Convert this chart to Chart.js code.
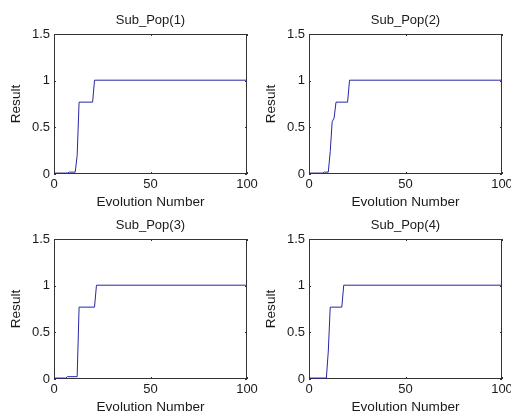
<!DOCTYPE html>
<html><head><meta charset="utf-8">
<script src="https://cdn.jsdelivr.net/npm/chart.js@4"></script>
<style>
html,body{margin:0;padding:0;background:#fff;overflow:hidden;width:511px;height:417px;position:relative;}
canvas{position:absolute;}
</style></head><body>
<canvas id="c1" width="270" height="215" style="left:0px;top:0px"></canvas>
<canvas id="c2" width="270" height="215" style="left:255px;top:0px"></canvas>
<canvas id="c3" width="270" height="215" style="left:0px;top:205px"></canvas>
<canvas id="c4" width="270" height="215" style="left:255px;top:205px"></canvas>
<script>
// ---- data ----
const titles = ['Sub_Pop(1)', 'Sub_Pop(2)', 'Sub_Pop(3)', 'Sub_Pop(4)'];
const xLabel = 'Evolution Number';
const yLabel = 'Result';
const xTicks = [0, 50, 100];
const yTicks = [0, 0.5, 1, 1.5];

const gens1 = [0, 7, 8, 11, 12, 13, 20, 21, 100];
const vals1 = [0.01, 0.01, 0.02, 0.02, 0.2, 0.77, 0.77, 1.005, 1.005];

const gens2 = [0, 7, 8, 10, 11, 12, 13, 14, 20, 21, 100];
const vals2 = [0.01, 0.01, 0.02, 0.02, 0.24, 0.56, 0.6, 0.77, 0.77, 1.005, 1.005];

const gens3 = [0, 6, 7, 12, 13, 21, 22, 100];
const vals3 = [0.01, 0.01, 0.025, 0.025, 0.77, 0.77, 1.005, 1.005];

const gens4 = [0, 9, 10, 11, 17, 18, 100];
const vals4 = [0.01, 0.01, 0.3, 0.77, 0.77, 1.005, 1.005];

const series = [[gens1, vals1], [gens2, vals2], [gens3, vals3], [gens4, vals4]];

// ---- styling ----
const FAMILY = '"Liberation Sans", Arial, Helvetica, sans-serif';
const FONT = {family: FAMILY, size: 13};
const LFONT = {family: FAMILY, size: 13.6};
const TEXT = '#1a1a1a';
const LINE = '#2626a6';
const AXIS = '#333333';

const boxPlugin = {
  id: 'matlabBox',
  beforeDatasetsDraw(chart) {
    const {ctx, chartArea: a, scales: {x, y}} = chart;
    ctx.save();
    ctx.strokeStyle = AXIS;
    ctx.lineWidth = 1;
    ctx.strokeRect(a.left + 0.5, a.top + 0.5, a.right - a.left - 1, a.bottom - a.top - 1);
    const tl = 2;
    ctx.beginPath();
    x.ticks.forEach(t => {
      const px = Math.round(x.getPixelForValue(t.value)) + 0.5;
      ctx.moveTo(px, a.bottom); ctx.lineTo(px, a.bottom - tl);
      ctx.moveTo(px, a.top); ctx.lineTo(px, a.top + tl);
    });
    y.ticks.forEach(t => {
      const py = Math.round(y.getPixelForValue(t.value)) + 0.5;
      ctx.moveTo(a.left, py); ctx.lineTo(a.left + tl, py);
      ctx.moveTo(a.right, py); ctx.lineTo(a.right - tl, py);
    });
    ctx.stroke();
    ctx.restore();
  }
};

function makeChart(id, idx) {
  const [gx, gy] = series[idx];
  const pts = gx.map((g, i) => ({x: g, y: gy[i]}));
  new Chart(document.getElementById(id), {
    type: 'line',
    data: {datasets: [{data: pts, borderColor: LINE, borderWidth: 1, pointRadius: 0, tension: 0, fill: false, clip: 3}]},
    options: {
      responsive: false,
      animation: false,
      devicePixelRatio: 1,
      events: [],
      layout: {padding: {left: 0, right: 23, top: 0, bottom: 0}},
      plugins: {
        legend: {display: false},
        tooltip: {enabled: false},
        title: {
          display: true, text: titles[idx], fullSize: false,
          color: TEXT, font: {...FONT, weight: 'normal'},
          padding: {top: 12.2, bottom: 6.2}
        }
      },
      scales: {
        x: {
          type: 'linear', min: 0, max: 100,
          afterBuildTicks: s => { s.ticks = xTicks.map(v => ({value: v})); },
          afterFit: s => { s.height = 41; },
          grid: {display: false, drawTicks: false},
          border: {display: false},
          ticks: {color: TEXT, font: FONT, padding: 3, maxRotation: 0, autoSkip: false, callback: v => String(v)},
          title: {display: true, text: xLabel, color: TEXT, font: LFONT, padding: {top: 0, bottom: 5}}
        },
        y: {
          type: 'linear', min: 0, max: 1.5,
          afterBuildTicks: s => { s.ticks = yTicks.map(v => ({value: v})); },
          afterFit: s => { s.width = 54; },
          grid: {display: false, drawTicks: false},
          border: {display: false},
          ticks: {color: TEXT, font: FONT, padding: 4, autoSkip: false, callback: v => String(v)},
          title: {display: true, text: yLabel, color: TEXT, font: LFONT, padding: {top: 8, bottom: 0}}
        }
      }
    },
    plugins: [boxPlugin]
  });
}
makeChart('c1', 0);
makeChart('c2', 1);
makeChart('c3', 2);
makeChart('c4', 3);
</script>
</body></html>
